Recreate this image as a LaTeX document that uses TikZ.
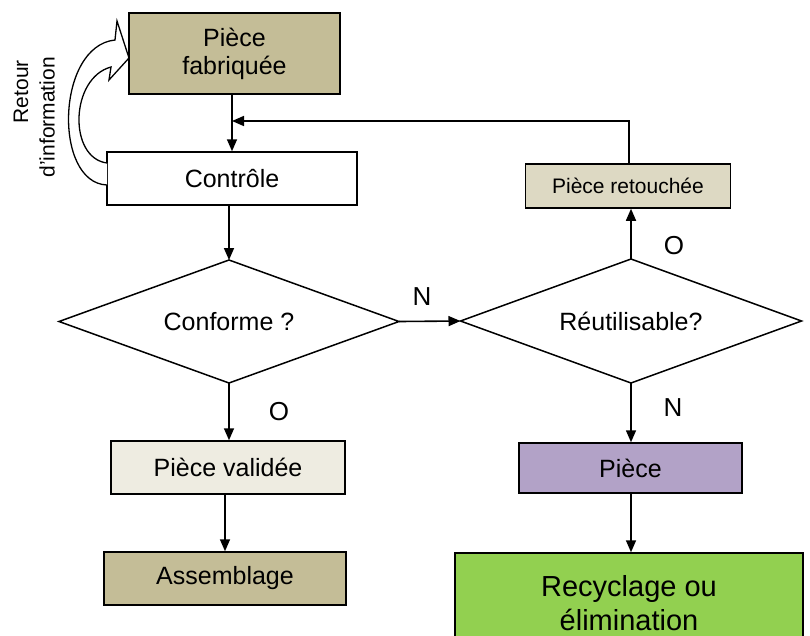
\documentclass[tikz,border=0pt]{standalone}
\usepackage{fontspec}
\setmainfont{Liberation Sans}
\usetikzlibrary{shapes.geometric,arrows.meta}
\definecolor{tanbox}{HTML}{C4BD97}
\definecolor{lighttan}{HTML}{DDD9C3}
\definecolor{paletan}{HTML}{EEECE1}
\definecolor{lilac}{HTML}{B2A2C7}
\definecolor{limegreen}{HTML}{92D050}
\begin{document}
\begin{tikzpicture}[x=1pt,y=-1pt,
  box/.style={draw=black, line width=1.5pt, rectangle, inner sep=0pt, align=center, font=\fontsize{25}{28}\selectfont},
  decision/.style={draw=black, line width=1.5pt, diamond, shape aspect=2.76, inner sep=0pt, outer sep=0pt, font=\fontsize{25}{28}\selectfont},
  arr/.style={line width=1.6pt, -{Triangle[length=12pt,width=10pt]}},
  lbl/.style={font=\fontsize{26}{28}\selectfont, inner sep=0pt},
  sidetext/.style={rotate=90, anchor=east, inner sep=0pt, font=\fontsize{21}{24}\selectfont}]
\useasboundingbox (0,0) rectangle (810,635);

\node[box, fill=tanbox, minimum width=211, minimum height=81] (fab) at (234.5,53.5) {Pièce\\fabriquée};
\node[box, fill=white, minimum width=250, minimum height=53] (ctrl) at (232,178.5) {Contrôle};
\node[box, fill=lighttan, minimum width=205, minimum height=44, font=\fontsize{21}{24}\selectfont] (ret) at (628,186) {Pièce retouchée};
\node[decision, minimum width=340, minimum height=123] (conf) at (229,321.5) {Conforme ?};
\node[decision, minimum width=341, minimum height=124] (reut) at (631,321) {Réutilisable?};
\node[box, fill=paletan, minimum width=234, minimum height=53] (valid) at (228,467.5) {Pièce validée};
\node[box, fill=tanbox, minimum width=242, minimum height=53] (assem) at (225,578.5) {Assemblage};
\node[box, fill=lilac, minimum width=223, minimum height=50] (piece) at (630.5,468) {Pièce};
\node[box, fill=limegreen, minimum width=348, minimum height=100, font=\fontsize{29}{34}\selectfont] (recyc) at (629,603) {Recyclage ou\\élimination};

\coordinate (j) at (232,121);
\draw[arr] (fab.south -| j) -- (ctrl.north -| j);
\draw[arr] (ret.north -| 629,0) |- (j);
\draw[arr] (ctrl.south -| conf.north) -- (conf.north);
\draw[arr] (conf.east) -- (reut.west);
\draw[arr] (conf.south) -- (valid.north -| conf.south);
\draw[arr] (valid.south -| 225,0) -- (assem.north -| 225,0);
\draw[arr] (reut.north) -- (ret.south -| reut.north);
\draw[arr] (reut.south) -- (reut.south |- piece.north);
\draw[arr] (piece.south -| reut.south) -- (recyc.north -| reut.south);

\node[lbl] (n1) at (422,297) {N};
\node[lbl] (o1) at (279,412) {O};
\node[lbl] (o2) at (674,246) {O};
\node[lbl] (n2) at (673,408) {N};

\draw[line width=1.3pt, fill=white] (107,185) .. controls (53,183) and (56,46) .. (115,40) -- (117,21) -- (129,58) -- (109,80) -- (111,67) .. controls (70,78) and (68,158) .. (107,163);

\node[sidetext] (t1) at (21,60) {Retour};
\node[sidetext] (t2) at (47,57) {d'information};
\end{tikzpicture}
\end{document}
